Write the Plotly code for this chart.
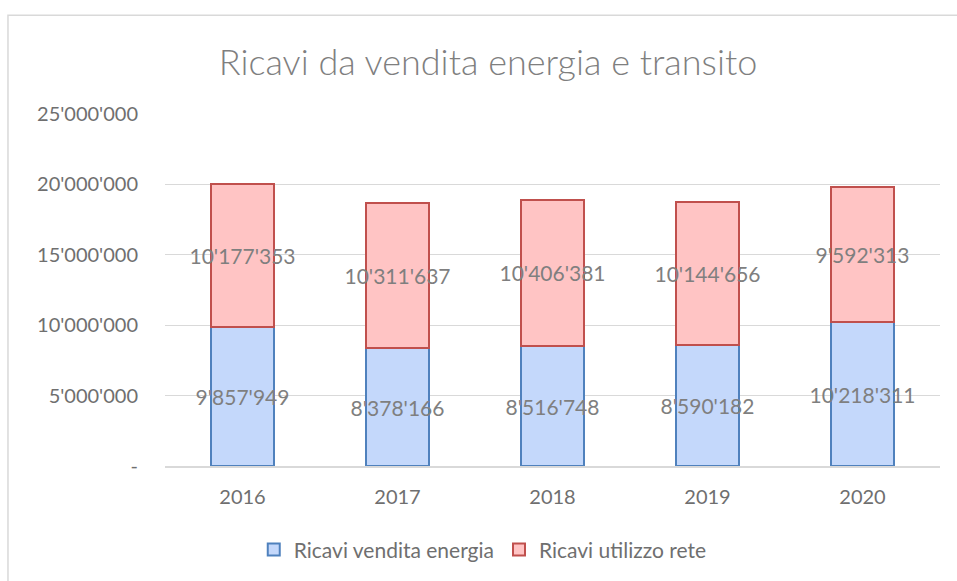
import plotly.graph_objects as go

# ─── Data ──────────────────────────────────────────────────────────────
years = ["2016", "2017", "2018", "2019", "2020"]
vendita_energia = [9857949, 8378166, 8516748, 8590182, 10218311]
utilizzo_rete = [10177353, 10311637, 10406381, 10144656, 9592313]
y_tickvals = [0, 5000000, 10000000, 15000000, 20000000, 25000000]
y_ticktext = ["-", "5'000'000", "10'000'000", "15'000'000", "20'000'000", "25'000'000"]

FONT = "Lato, Open Sans, sans-serif"
GREY = "#6f6f6f"
LIGHT = "#7f7f7f"

fig = go.Figure()
fig.add_trace(go.Bar(
    x=years, y=vendita_energia, name="Ricavi vendita energia",
    marker=dict(color="#c4d8fb", line=dict(color="#4f81bd", width=2)),
    texttemplate="%{y:,}", textposition="inside", insidetextanchor="middle",
    constraintext="none", textangle=0, cliponaxis=False,
    textfont=dict(family=FONT, size=21, color=LIGHT),
))
fig.add_trace(go.Bar(
    x=years, y=utilizzo_rete, name="Ricavi utilizzo rete",
    marker=dict(color="#ffc4c4", line=dict(color="#c0504d", width=2)),
    texttemplate="%{y:,}", textposition="inside", insidetextanchor="middle",
    constraintext="none", textangle=0, cliponaxis=False,
    textfont=dict(family=FONT, size=21, color=LIGHT),
))

fig.update_layout(
    barmode="stack",
    bargap=0.59,
    width=957, height=581,
    separators=".'",
    paper_bgcolor="white", plot_bgcolor="white",
    margin=dict(l=165, r=17, t=114, b=114),
    font=dict(family=FONT, size=20, color=GREY),
    title=dict(text="Ricavi da vendita energia e transito",
               font=dict(family=FONT, size=36, color=LIGHT, weight=300),
               x=0.51, xref="container", xanchor="center",
               y=0.893, yref="container", yanchor="middle"),
    legend=dict(orientation="h", x=0.41, xref="paper", xanchor="center",
                y=-0.235, yanchor="middle", font=dict(size=21, color=GREY),
                traceorder="normal", itemwidth=30),
    shapes=[dict(type="rect", xref="paper", yref="paper",
                 x0=-0.2026, x1=1.05, y0=-0.4, y1=1.2805,
                 line=dict(color="#d9d9d9", width=1.5), layer="below")],
)
fig.update_xaxes(showgrid=False, showline=True, linecolor="#d9d9d9", linewidth=1.5,
                 ticks="", ticklabelstandoff=12, tickfont=dict(size=20, color=GREY))
fig.update_yaxes(range=[0, 25000000], tickvals=y_tickvals, ticktext=y_ticktext,
                 showgrid=True, gridcolor="#d9d9d9", gridwidth=1.2, zeroline=False,
                 ticks="", ticklabelstandoff=26, tickfont=dict(size=20, color=GREY))

fig.write_html("out.html", config={"displayModeBar": False},
               post_script="document.body.style.margin='0';")
